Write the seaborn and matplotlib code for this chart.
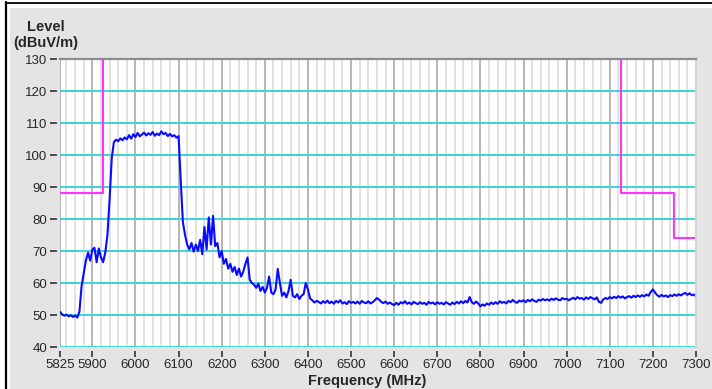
import numpy as np
import pandas as pd
import matplotlib.pyplot as plt
from matplotlib.lines import Line2D
from matplotlib.patches import Rectangle
from matplotlib.ticker import MultipleLocator
import seaborn as sns

# measured trace, one reading every 5 MHz from 5825 to 7300 MHz
freq_start, freq_stop, freq_step = 5825, 7300, 5
level_dbuv = [
    # 5825 - 5945
    51.0, 50.2, 49.8, 50.1, 49.6, 49.9, 49.4, 49.8, 49.2, 51.0,
    59.0, 63.0, 67.0, 69.5, 67.0, 70.5, 71.0, 66.5, 70.8, 68.0,
    66.5, 69.5, 75.0, 86.0, 99.0,
    # 5950 - 6100
    104.0, 104.8, 104.3, 105.2, 104.6, 105.5, 104.9, 106.2, 105.1, 106.5,
    105.6, 106.9, 105.8, 106.4, 107.0, 106.1, 106.8, 106.3, 107.2, 106.0,
    106.7, 106.2, 107.4, 106.5, 106.9, 105.9, 106.6, 105.8, 106.2, 105.4,
    105.9,
    # 6105 - 6405
    92.0, 79.0, 75.0, 72.0, 70.5, 72.5, 69.8, 72.0, 70.0, 73.5,
    69.0, 77.5, 70.5, 80.5, 72.0, 81.0, 71.5, 72.5, 68.0, 70.0,
    66.0, 67.5, 64.5, 66.0, 63.5, 65.0, 62.5, 64.5, 62.0, 63.5,
    66.0, 68.0, 61.0, 60.0, 59.5, 58.5, 59.8, 57.5, 58.8, 57.0,
    58.5, 62.0, 57.0, 56.5, 58.0, 64.4, 60.0, 56.0, 57.0, 55.5,
    57.5, 61.0, 56.0, 55.5, 56.5, 55.0, 56.0, 56.5, 60.0, 58.0,
    55.2,
    # 6410 - 7300
    54.6, 53.9, 54.4, 54.1, 53.6, 54.3, 53.8, 54.5, 53.7, 54.2,
    53.5, 54.4, 53.9, 54.6, 53.6, 54.0, 53.4, 54.3, 53.8, 54.1,
    53.6, 54.2, 53.5, 54.4, 53.9, 53.7, 54.3, 53.6, 54.0, 54.6,
    55.3, 54.8, 54.1, 53.7, 54.2, 53.5, 53.9, 53.4, 53.1, 53.8,
    53.2, 54.0, 53.6, 54.3, 53.5, 53.9, 53.3, 54.1, 53.7, 53.4,
    54.0, 53.5, 53.8, 53.2, 54.1, 53.6, 53.9, 53.3, 54.0, 53.5,
    53.8, 53.3, 54.0, 53.6, 53.2, 53.9, 53.4, 54.1, 53.6, 54.3,
    53.7, 54.4, 53.9, 55.6, 54.0, 53.5, 54.2, 53.6, 52.7, 53.3,
    52.9, 53.6, 53.2, 53.9, 53.4, 54.0, 53.5, 54.3, 53.8, 54.1,
    53.6, 54.4, 54.0, 54.7, 54.1, 53.8, 54.5, 54.2, 54.6, 54.0,
    54.7, 54.3, 54.9, 54.4, 54.1, 54.8, 54.5, 55.0, 54.6, 54.9,
    54.5, 55.1, 54.7, 55.2, 54.8, 54.6, 55.3, 54.9, 55.1, 54.6,
    55.0, 55.4, 54.9, 55.6, 55.1, 55.3, 54.8, 55.5, 55.0, 55.6,
    55.2, 54.9, 55.5, 54.1, 53.8, 54.9, 55.3, 55.0, 55.6, 55.2,
    55.7, 55.3, 55.9, 55.4, 55.8, 55.2, 55.6, 55.9, 55.4, 56.0,
    55.6, 56.1, 55.7, 56.2, 55.8, 56.4, 56.0, 57.2, 58.0, 57.0,
    56.2, 55.7, 56.3, 55.8, 56.1, 55.6, 56.2, 55.9, 56.4, 56.0,
    56.5, 56.1, 56.6, 56.9, 56.3, 56.8, 56.2, 56.4, 55.8,
]

# limit mask (step edges and levels, 150 = off the top of the chart)
limit_edges = [5825, 5925, 7125, 7250, 7300]
limit_levels = [88, 150, 88, 74, 74]

x_ticks = [5825, 5900, 6000, 6100, 6200, 6300, 6400, 6500, 6600,
           6700, 6800, 6900, 7000, 7100, 7200, 7300]
y_ticks = [40, 50, 60, 70, 80, 90, 100, 110, 120, 130]

df = pd.DataFrame({
    'freq': np.arange(freq_start, freq_stop + 1, freq_step),
    'level': level_dbuv,
})
lim = pd.DataFrame({'freq': limit_edges, 'level': limit_levels})

sns.set_style('white')
plt.rcParams['font.family'] = ['Liberation Sans', 'DejaVu Sans']

W, H = 712, 389
fig = plt.figure(figsize=(W / 100, H / 100), dpi=100, facecolor='white')

# grey window background + black frame bits of the screenshot
fig.add_artist(Rectangle((10 / W, 0), 1, (H - 8) / H, transform=fig.transFigure,
                         facecolor='#e4e4e4', edgecolor='none', zorder=-10))
fig.add_artist(Line2D([6 / W, 6 / W], [0, 1 - 1.5 / H], transform=fig.transFigure,
                      color='black', lw=1.6))
fig.add_artist(Line2D([6 / W, 1], [1 - 2.5 / H, 1 - 2.5 / H], transform=fig.transFigure,
                      color='black', lw=1.3))

ax = fig.add_axes([60 / W, 1 - 347 / H, (696 - 60) / W, (347 - 59) / H])
ax.set_facecolor('white')

sns.lineplot(data=lim, x='freq', y='level', ax=ax, color='#ff33ff', lw=1.5,
             drawstyle='steps-post', estimator=None, sort=False)
sns.lineplot(data=df, x='freq', y='level', ax=ax, color='#0a0aff', lw=1.5,
             estimator=None)

ax.set_xlim(freq_start, freq_stop)
ax.set_ylim(40, 130)
ax.set_xticks(x_ticks)
ax.set_yticks(y_ticks)
ax.xaxis.set_minor_locator(MultipleLocator(20))
ax.set_xlabel('')
ax.set_ylabel('')

ax.grid(which='minor', axis='x', color='#dedede', lw=1.3)
ax.grid(which='major', axis='x', color='#b0b0b0', lw=1.3)
ax.grid(which='major', axis='y', color='#3fd3d3', lw=1.4)
for t in ax.yaxis.get_major_ticks():
    if t.get_loc() in (40, 130):
        t.gridline.set_visible(False)
ax.set_axisbelow(True)

for side in ('bottom', 'left'):
    ax.spines[side].set_position(('outward', 3 if side == 'bottom' else 2))
    ax.spines[side].set_color('none')
ax.spines['top'].set_color('#8c8c8c')
ax.spines['top'].set_linewidth(1.6)
ax.spines['right'].set_color('#d4d4d4')
ax.spines['right'].set_linewidth(1.5)

ax.tick_params(axis='x', which='major', length=4, width=1.2, color='#333333',
               labelsize=9.5, pad=2, direction='out', bottom=True)
ax.tick_params(axis='y', which='major', length=5, width=1.2, color='#333333',
               labelsize=9.5, pad=2, direction='out', left=True)
ax.tick_params(which='minor', length=0)

fig.text(46 / W, 1 - 35 / H, 'Level\n(dBuV/m)', ha='center', va='center',
         fontsize=10.5, fontweight='bold', linespacing=1.15)
fig.text(367 / W, 1 - 381 / H, 'Frequency (MHz)', ha='center', va='center',
         fontsize=10.5, fontweight='bold')

fig.savefig('out.png', dpi=100)
